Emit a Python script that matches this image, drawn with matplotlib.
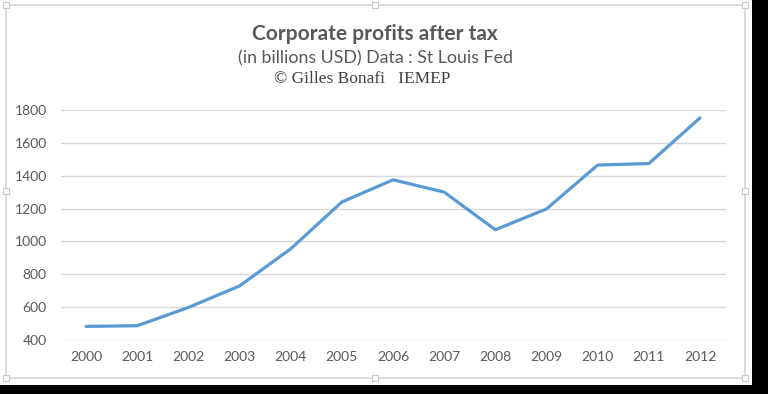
import matplotlib.pyplot as plt
from matplotlib.patches import Rectangle

years = ["2000", "2001", "2002", "2003", "2004", "2005", "2006",
         "2007", "2008", "2009", "2010", "2011", "2012"]
profits = [483, 487, 598, 729, 955, 1240, 1375, 1300, 1071, 1198, 1465, 1474, 1752]
y_ticks = [400, 600, 800, 1000, 1200, 1400, 1600, 1800]

W, H = 768, 394
plt.rcParams['font.family'] = ['Lato', 'DejaVu Sans']

fig = plt.figure(figsize=(W / 100, H / 100), dpi=100)
fig.patch.set_facecolor("white")

# black background outside the chart frame (right and bottom)
fig.patches.append(Rectangle((752 / W, 0), 1, 1, transform=fig.transFigure,
                             facecolor="black", edgecolor="none", zorder=0))
fig.patches.append(Rectangle((0, 0), 1, 1 - 385 / H, transform=fig.transFigure,
                             facecolor="black", edgecolor="none", zorder=0))
# chart frame
fig.patches.append(Rectangle((6 / W, 1 - 378 / H), (745 - 6) / W, (378 - 5) / H,
                             transform=fig.transFigure, facecolor="none",
                             edgecolor="#d4d4d4", linewidth=1.2, zorder=1))
# selection handles
for hx, hy in [(6, 5), (375, 5), (745, 5), (6, 191), (745, 191),
               (6, 378), (375, 378), (745, 378)]:
    fig.patches.append(Rectangle(((hx - 3) / W, 1 - (hy + 3) / H), 6 / W, 6 / H,
                                 transform=fig.transFigure, facecolor="white",
                                 edgecolor="#c8c8c8", linewidth=0.8, zorder=2))

ax = fig.add_axes([60.5 / W, 1 - 340 / H, (725.6 - 60.5) / W, (340 - 110) / H])
x = list(range(len(years)))
ax.plot(x, profits, color="#5b9bd5", linewidth=2.3, solid_joinstyle="round",
        solid_capstyle="round", zorder=3)

ax.set_xlim(-0.5, len(years) - 0.5)
ax.set_ylim(400, 1800)
ax.set_yticks(y_ticks)
ax.set_xticks(x, years)
ax.grid(axis="y", color="#d9d9d9", linewidth=1)
ax.set_axisbelow(True)
for s in ax.spines.values():
    s.set_visible(False)
ax.tick_params(length=0, colors="#595959", labelsize=10)
ax.tick_params(axis="x", pad=8)
ax.tick_params(axis="y", pad=10)

fig.text(375 / W, 1 - 34 / H, "Corporate profits after tax", ha="center", va="center",
         fontsize=15, fontweight="bold", color="#595959")
fig.text(375 / W, 1 - 58 / H, "(in billions USD) Data : St Louis Fed", ha="center",
         va="center", fontsize=12.8, color="#595959")
fig.text(362 / W, 1 - 79 / H, "\u00a9 Gilles Bonafi   IEMEP", ha="center", va="center",
         fontsize=12.5, color="#404040", family=["Liberation Serif", "DejaVu Serif"])

fig.savefig("out.png", dpi=100)
